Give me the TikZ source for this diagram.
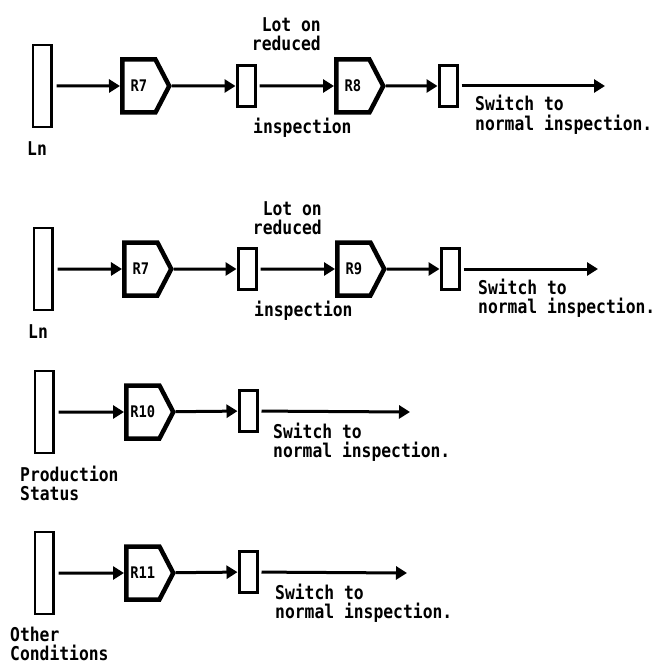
\documentclass[tikz,border=0pt]{standalone}
\usepackage{fontspec}
\newfontfamily\dotfont{DejaVu Sans Mono}[FakeStretch=0.86]
\usetikzlibrary{arrows.meta,shapes.symbols}

\begin{document}
\begin{tikzpicture}[x=1pt,y=-1pt]
	\tikzstyle{every node}+=[inner sep=0pt, font=\dotfont\bfseries\fontsize{19}{19}\selectfont]
	\tikzstyle{source}=[draw, line width=2.5pt, minimum width=18.5pt, minimum height=82pt]
	\tikzstyle{rulebox}=[draw, signal, signal to=east, signal pointer angle=125, line width=4.5pt, minimum width=47pt, minimum height=53pt, font=\dotfont\bfseries\fontsize{16}{16}\selectfont]
	\tikzstyle{lotbox}=[draw, line width=3pt, minimum width=18pt, minimum height=41pt]
	\tikzstyle{flow}=[line width=3pt, -{Triangle[length=11pt,width=13pt]}]
	\tikzstyle{note}=[anchor=base west, align=left]
	\useasboundingbox (0,0) rectangle (658,666);

	% first chain (two-line labels sit on their last line)
	\node [source] (ln1) at (42,86) {};
	\node [rulebox, anchor=west] (r7a) at (120,86) {R7};
	\node [lotbox] (lot1a) at (246,86) {};
	\node [rulebox, anchor=west] (r8) at (334,86) {R8};
	\node [lotbox] (lot1b) at (448,86) {};
	\coordinate (end1) at (605,86);
	\draw [flow, shorten <=4pt] (ln1) -- (r7a);
	\draw [flow] (r7a) -- (lot1a);
	\draw [flow, shorten <=3pt] (lot1a) -- (r8);
	\draw [flow] (r8) -- (lot1b);
	\draw [flow, shorten <=3pt] (lot1b) -- (end1);
	\node [anchor=base east, align=right] (lot1) at (321,51) {Lot on\\reduced};
	\node [note] (insp1) at (253,133) {inspection};
	\node [note] (sw1) at (475,130) {Switch to\\normal inspection.};
	\node [note] (lnlab1) at (27,155) {Ln};

	% second chain
	\node [source] (ln2) at (43,269) {};
	\node [rulebox, anchor=west] (r7b) at (122,269) {R7};
	\node [lotbox] (lot2a) at (247,269) {};
	\node [rulebox, anchor=west] (r9) at (335,269) {R9};
	\node [lotbox] (lot2b) at (450,269) {};
	\coordinate (end2) at (598,269);
	\draw [flow, shorten <=4pt] (ln2) -- (r7b);
	\draw [flow] (r7b) -- (lot2a);
	\draw [flow, shorten <=3pt] (lot2a) -- (r9);
	\draw [flow] (r9) -- (lot2b);
	\draw [flow, shorten <=3pt] (lot2b) -- (end2);
	\node [anchor=base east, align=right] (lot2) at (322,234) {Lot on\\reduced};
	\node [note] (insp2) at (254,316) {inspection};
	\node [note] (sw2) at (478,313) {Switch to\\normal inspection.};
	\node [note] (lnlab2) at (28,338) {Ln};

	% production status
	\node [source] (ln3) at (44,412) {};
	\node [rulebox, anchor=west] (r10) at (124,412) {R10};
	\node [lotbox] (lot3) at (248,411) {};
	\coordinate (end3) at (410,412);
	\draw [flow, shorten <=4pt] (ln3) -- (r10);
	\draw [flow] (r10) -- (lot3);
	\draw [flow, shorten <=3pt] (lot3) -- (end3);
	\node [note] (sw3) at (273,457) {Switch to\\normal inspection.};
	\node [note] (prod) at (20,500) {Production\\Status};

	% other conditions
	\node [source] (ln4) at (44,573) {};
	\node [rulebox, anchor=west] (r11) at (124,573) {R11};
	\node [lotbox] (lot4) at (248,572) {};
	\coordinate (end4) at (407,573);
	\draw [flow, shorten <=4pt] (ln4) -- (r11);
	\draw [flow] (r11) -- (lot4);
	\draw [flow, shorten <=3pt] (lot4) -- (end4);
	\node [note] (sw4) at (275,618) {Switch to\\normal inspection.};
	\node [note] (other) at (10,660) {Other\\Conditions};
\end{tikzpicture}
\end{document}
